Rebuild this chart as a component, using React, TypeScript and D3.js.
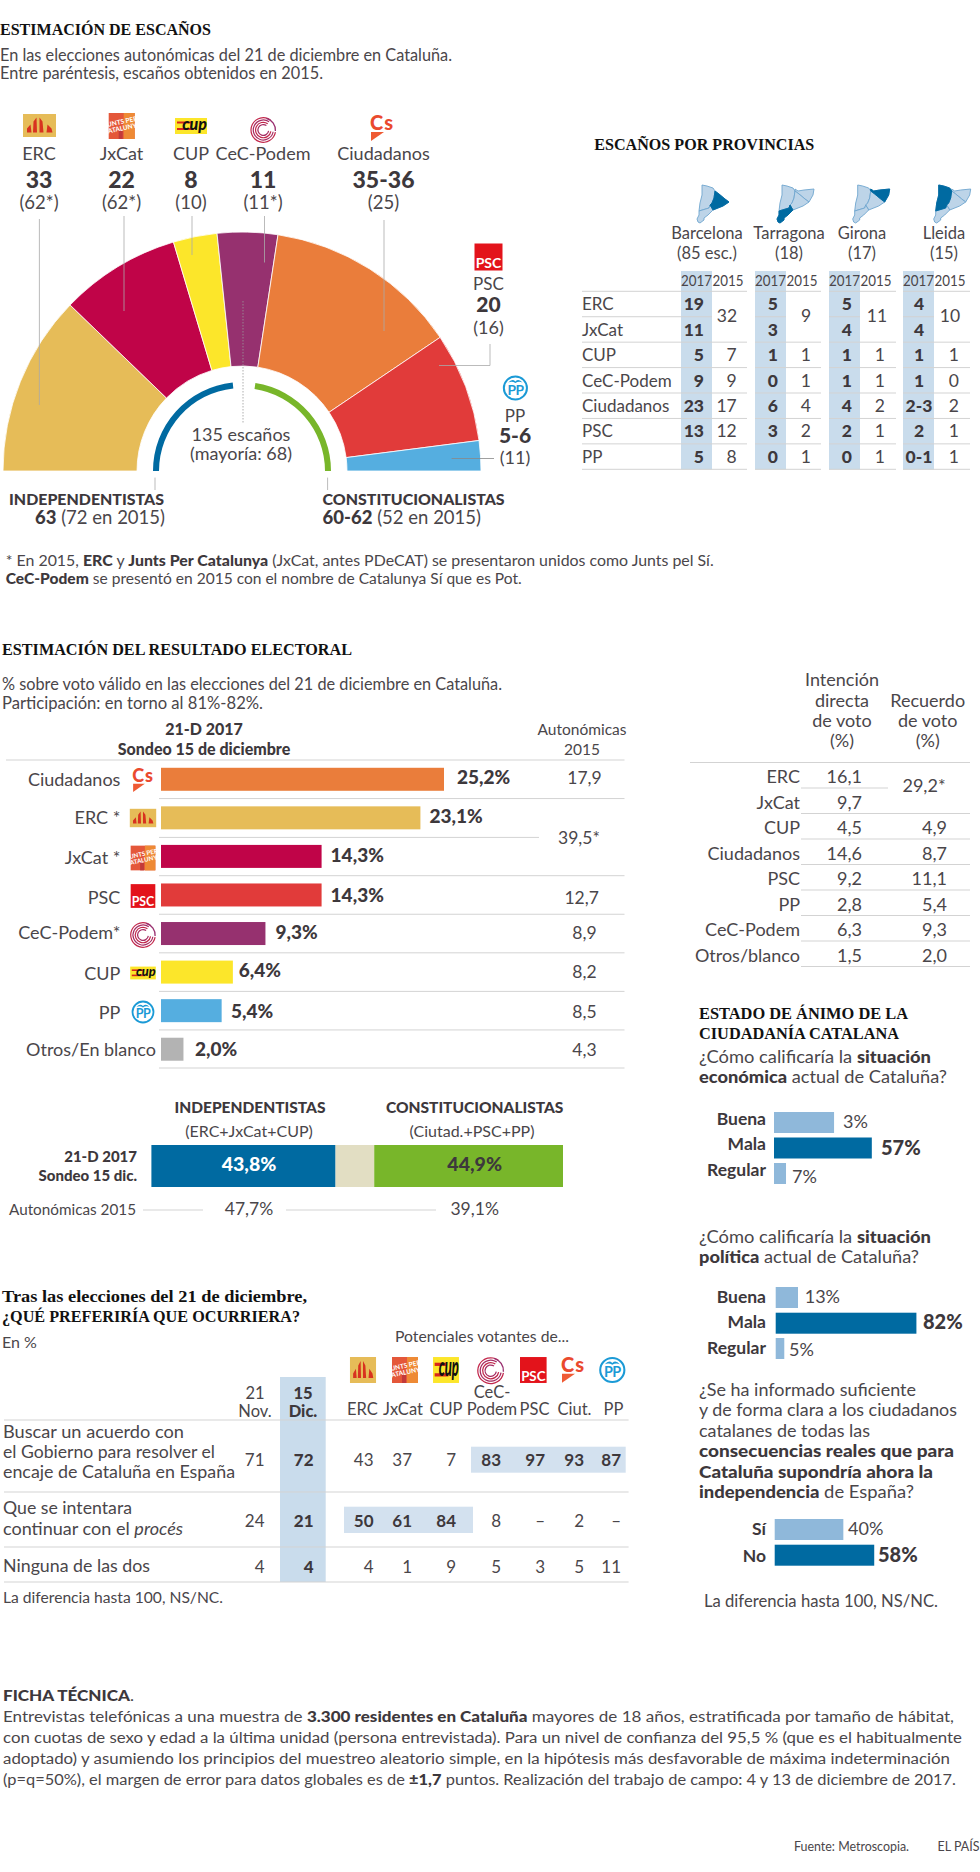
import React from "react";
import * as d3 from "d3";

// ---------- data ----------
const parties = ["ERC", "JxCat", "CUP", "CeC-Podem", "Ciudadanos", "PSC", "PP"];
const seats = [33, 22, 8, 11, 35.5, 20, 5.5];
const seatLabels = ["33", "22", "8", "11", "35-36", "20", "5-6"];
const seats2015 = ["(62*)", "(62*)", "(10)", "(11*)", "(25)", "(16)", "(11)"];
const partyColors = ["#e6bc58", "#c00448", "#fce62a", "#96316f", "#ea7d3b", "#e13b3a", "#55aee0"];
const blocSeats = [63, 61];

const provinces = ["Barcelona", "Tarragona", "Girona", "Lleida"];
const provinceSub = ["(85 esc.)", "(18)", "(17)", "(15)"];
const provRows = ["ERC", "JxCat", "CUP", "CeC-Podem", "Ciudadanos", "PSC", "PP"];
const prov2017 = [
  ["19", "11", "5", "9", "23", "13", "5"],
  ["5", "3", "1", "0", "6", "3", "0"],
  ["5", "4", "1", "1", "4", "2", "0"],
  ["4", "4", "1", "1", "2-3", "2", "0-1"],
];
const prov2015 = [
  ["32", "", "7", "9", "17", "12", "8"],
  ["9", "", "1", "1", "4", "2", "1"],
  ["11", "", "1", "1", "2", "1", "1"],
  ["10", "", "1", "0", "2", "1", "1"],
];

const voteParties = ["Ciudadanos", "ERC *", "JxCat *", "PSC", "CeC-Podem*", "CUP", "PP", "Otros/En blanco"];
const voteKeys = ["Cs", "ERC", "JxCat", "PSC", "CeC", "CUP", "PP", ""];
const voteValues = [25.2, 23.1, 14.3, 14.3, 9.3, 6.4, 5.4, 2.0];
const voteLabels = ["25,2%", "23,1%", "14,3%", "14,3%", "9,3%", "6,4%", "5,4%", "2,0%"];
const voteColors = ["#ea7d3b", "#e6bc58", "#c00448", "#e13b3a", "#96316f", "#fce62a", "#55aee0", "#b3b3b3"];
const vote2015 = ["17,9", "", "", "12,7", "8,9", "8,2", "8,5", "4,3"];

const blocValues = [43.8, 9.2, 44.9];
const blocColors = ["#006aa1", "#e2dec3", "#78b62a"];

const directRows = ["ERC", "JxCat", "CUP", "Ciudadanos", "PSC", "PP", "CeC-Podem", "Otros/blanco"];
const directVote = ["16,1", "9,7", "4,5", "14,6", "9,2", "2,8", "6,3", "1,5"];
const recallVote = ["", "", "4,9", "8,7", "11,1", "5,4", "9,3", "2,0"];

const moodLabels = ["Buena", "Mala", "Regular"];
const econValues = [35, 57, 7];
const econLabels = ["3%", "57%", "7%"];
const polValues = [13, 82, 5];
const polLabels = ["13%", "82%", "5%"];
const infoLabels = ["Sí", "No"];
const infoValues = [40, 58];
const infoText = ["40%", "58%"];

const prefCols = ["ERC", "JxCat", "CUP", "Podem", "PSC", "Ciut.", "PP"];
const prefNov = ["71", "24", "4"];
const prefDec = ["72", "21", "4"];
const prefValues = [
  ["43", "37", "7", "83", "97", "93", "87"],
  ["50", "61", "84", "8", "–", "2", "–"],
  ["4", "1", "9", "5", "3", "5", "11"],
];

// locator map outlines
const mapLleida: [number, number][] = [[18, 7], [17, 14], [15, 19], [13, 21], [12, 24], [2, 27], [3, 19], [5, 11], [5, 1], [10, 2], [16, 4]];
const mapGirona: [number, number][] = [[18, 5], [21, 7], [27, 6], [37, 5], [36, 11], [32, 18], [28, 15], [22, 10], [18, 7]];
const mapBarcelona: [number, number][] = [[18, 7], [22, 10], [28, 15], [32, 18], [26, 22], [16, 26], [13, 21], [15, 19], [17, 14]];
const mapTarragona: [number, number][] = [[2, 27], [12, 24], [13, 21], [16, 26], [11, 31], [7, 34], [7, 36], [3, 39], [1, 38], [0, 35], [2, 31]];
const mapShapes: Record<string, [number, number][]> = { Lleida: mapLleida, Girona: mapGirona, Barcelona: mapBarcelona, Tarragona: mapTarragona };

// ---------- helpers ----------
const SANS = "Lato, 'Open Sans', sans-serif";
const SERIF = "'Liberation Serif', serif";
const INK = "#4a464a";
const DARK = "#3d383c";
const RULE = "#d3d3d3";

type TP = { x: number; y: number; a?: "start" | "middle" | "end"; s?: number; b?: boolean; w?: number; c?: string; f?: string; tl?: number; children?: React.ReactNode };
const T = ({ x, y, a = "start", s = 16, b, w, c, f = SANS, tl, children }: TP) => (
  <text x={x} y={y} textAnchor={a} fontSize={s} fontFamily={f} fontWeight={w ?? (b ? 900 : 400)} fill={c ?? (b ? DARK : INK)}
    {...(tl ? { textLength: tl, lengthAdjust: "spacingAndGlyphs" } : {})}>{children}</text>
);
const B = ({ children }: { children: React.ReactNode }) => <tspan fontWeight={900} fill={DARK}>{children}</tspan>;
const Title = (p: TP) => <T s={17} w={700} c="#111" f={SERIF} {...p} />;
const Rule = ({ x1, x2, y, c = RULE, sw = 1 }: { x1: number; x2: number; y: number; c?: string; sw?: number }) => <line x1={x1} x2={x2} y1={y} y2={y} stroke={c} strokeWidth={sw} />;
const V = ({ x, y1, y2, c = "#aaa", dash }: { x: number; y1: number; y2: number; c?: string; dash?: string }) => <line x1={x} x2={x} y1={y1} y2={y2} stroke={c} strokeWidth={0.8} strokeDasharray={dash} />;

const cecRing = (r: number) =>
  d3.arc()({ innerRadius: r - 0.6, outerRadius: r + 0.6, startAngle: (100 * Math.PI) / 180, endAngle: (395 * Math.PI) / 180 } as any) as string;

// logos: cx/cy = centre, k = horizontal scale, ky = vertical scale
const Logo = ({ id, cx, cy, k = 1, ky }: { id: string; cx: number; cy: number; k?: number; ky?: number }) => {
  const tr = `translate(${cx},${cy}) scale(${k},${ky ?? k})`;
  if (id === "ERC")
    return (
      <g transform={tr}>
        <rect x={-16.5} y={-11.5} width={33} height={23} fill="#e6bc58" />
        <path d="M-12.5,7 L-12.5,3 L-9,-1 L-8,7Z M-6.5,7 L-6,-4 L-3,-8 L-2.5,7Z M0,7 L0,-8 L3,-4 L4,7Z M7,7 L8,-1 L12,3 L13,7Z" fill="#d8321f" />
      </g>
    );
  if (id === "JxCat")
    return (
      <g transform={tr}>
        <rect x={-13} y={-13} width={26} height={26} fill="#e4573a" />
        <rect x={2} y={-13} width={11} height={26} fill="#ee8a35" />
        <rect x={-3} y={5} width={4} height={8} fill="#c23a3a" />
        <g transform="rotate(-12)" fontFamily="'Liberation Sans Narrow', Lato" fontWeight={700} fill="#fff" fontSize={6.5} textAnchor="middle">
          <text y={-2}>JUNTS PER</text>
          <text y={4.5}>CATALUNYA</text>
        </g>
      </g>
    );
  if (id === "CUP")
    return (
      <g transform={tr}>
        <rect x={-16} y={-8} width={32} height={16} fill="#fce62a" />
        <rect x={-14} y={-4.5} width={14} height={2} fill="#d8261c" />
        <rect x={-14} y={2} width={17} height={2} fill="#d8261c" />
        <text x={3.5} y={3.5} textAnchor="middle" fontFamily={SANS} fontWeight={900} fontStyle="italic" fontSize={16} fill="#111">cup</text>
      </g>
    );
  if (id === "CeC")
    return (
      <g transform={tr}>
        {[12.3, 10, 7.7, 5.4].map((r, i) => <path key={r} d={cecRing(r)} fill={i % 2 ? "#a52c63" : "#c2274b"} />)}
        <path d={d3.arc()({ innerRadius: 11.5, outerRadius: 12.8, startAngle: (15 * Math.PI) / 180, endAngle: (95 * Math.PI) / 180 } as any) as string} fill="#9a3070" />
      </g>
    );
  if (id === "PSC")
    return (
      <g transform={tr}>
        <rect x={-14} y={-13.5} width={28} height={27} fill="#e3131b" />
        <text x={0} y={11} textAnchor="middle" fontFamily={SANS} fontWeight={700} fontSize={14} fill="#fff">PSC</text>
      </g>
    );
  if (id === "Cs")
    return (
      <g transform={tr}>
        <text x={0} y={6} textAnchor="middle" fontFamily={SANS} fontWeight={900} fontSize={20} letterSpacing={1} fill="#ea4a2e">Cs</text>
        <path d="M-11,8 L2,8 L-11,17 Z" fill="#ef5a33" />
      </g>
    );
  return (
    <g transform={tr}>
      <circle r={10.5} fill="none" stroke="#1b9ad6" strokeWidth={1.8} />
      <path d="M-6.5,-5 Q-3,-9 0,-6 Q3,-9 6.5,-5 Q3,-6.5 0,-4.5 Q-3,-6.5 -6.5,-5Z" fill="#1b9ad6" />
      <text x={0} y={6} textAnchor="middle" fontFamily={SANS} fontWeight={700} fontSize={12.5} fill="#1b9ad6" letterSpacing={-0.5}>PP</text>
    </g>
  );
};

const lineGen = d3.line();
const MiniMap = ({ name, x, y }: { name: string; x: number; y: number }) => (
  <g transform={`translate(${x},${y})`} strokeWidth={0.9} strokeLinejoin="round">
    {Object.keys(mapShapes).filter((k) => !(name === "Barcelona" && k === "Girona")).map((k) => (
      <path key={k} d={(lineGen(mapShapes[k]) ?? "") + "Z"} fill="#bdd4e8" stroke="#6fa6cf" />
    ))}
    <path d={(lineGen(mapShapes[name]) ?? "") + "Z"} fill="#006aa1" stroke="#006aa1" />
  </g>
);

const MoodBars = ({ labels, values, texts, x0, tops, h, labelY, textX, textY, strong }: any) => {
  const sx = d3.scaleLinear().domain([0, 100]).range([0, 171.6]);
  return (
    <g>
      {labels.map((l: string, i: number) => (
        <g key={l}>
          <T x={766} y={labelY[i]} a="end" s={17.5} w={700} c={DARK}>{l}</T>
          <rect x={x0} y={tops[i]} width={sx(values[i])} height={h} fill={i === strong ? "#006aa1" : "#8fb8da"} />
          <T x={textX[i]} y={textY[i]} s={i === strong ? 20 : 18} b={i === strong}>{texts[i]}</T>
        </g>
      ))}
    </g>
  );
};

export default function App() {
  // hemicycle
  const cx = 242, cy = 471;
  const pie = d3.pie<number>().sort(null).startAngle(-Math.PI / 2).endAngle(Math.PI / 2);
  const arcs = pie(seats);
  const arc = d3.arc<d3.PieArcDatum<number>>().innerRadius(105).outerRadius(239);
  const total = d3.sum(seats);
  const seatAngle = d3.scaleLinear().domain([0, total]).range([-Math.PI / 2, Math.PI / 2]);
  const ring = d3.arc().innerRadius(83).outerRadius(89);
  const blueRing = ring({ startAngle: seatAngle(0), endAngle: seatAngle(blocSeats[0]) } as any) as string;
  const greenRing = ring({ startAngle: seatAngle(total - blocSeats[1]), endAngle: seatAngle(total) } as any) as string;

  const labelX = [39, 121.5, 191, 263, 383.5];
  const logoKeys = ["ERC", "JxCat", "CUP", "CeC", "Cs"];
  const logoX = [39.5, 121.7, 191, 263.3, 382];
  const logoY = [125.5, 126, 126, 130, 124];

  // provinces
  const pRow = d3.scaleBand().domain(provRows).range([291.3, 469.3]);
  const colX = [681, 755, 829, 903];
  const colRight2017 = [704, 778, 852, 0];
  const colRight2015 = [736.7, 811, 885, 959];
  const mergedX = [727, 806, 877, 950];
  const colEnd = [747, 821, 896, 970];
  const mapX = [697, 777, 852.7, 933.7];
  const provLabelX = [707, 789, 862, 944];

  // vote bars
  const vx = d3.scaleLinear().domain([0, 25.2]).range([161, 444]);
  const vy = d3.scaleBand().domain(voteParties).range([760, 1068.5]);
  const voteTextY = [784, 823, 862, 902, 938.6, 977, 1017.6, 1056];
  const voteNameY = [786, 824, 864, 904, 939, 980, 1019, 1055.6];
  const voteLogoY = [776.6, 818, 858, 896, 935, 973, 1012, 0];
  const voteLogoK = [0.9, 0.8, 0.95, 0.88, 1, 0.8, 1, 1];
  const v2015X = [584.5, 0, 0, 581.6, 584.5, 584.5, 584.5, 584.5];
  const v2015Y = [784, 0, 0, 904, 939, 978, 1018, 1056];
  const valueX = [457, 429.4, 330.6, 330.6, 275.5, 238.8, 231, 195];

  // blocs
  const bx = d3.scaleLinear().domain([0, d3.sum(blocValues)]).range([151.4, 563]);
  let acc = 0;
  const blocs = blocValues.map((v, i) => { const r = { x0: bx(acc), x1: bx(acc + v), c: blocColors[i] }; acc += v; return r; });

  // direct table
  const dRow = d3.scaleBand().domain(directRows).range([762.5, 966.5]);

  // preferences
  const prefEnd = [373.5, 412, 456, 501, 545, 584, 621];
  const prefHeadX = [362.4, 403, 446, 492, 534.5, 574.5, 613.5];
  const prefRowY = [1466, 1526.7, 1572.7];
  const prefLogos: [string, number, number, number, number][] = [["ERC", 363, 1370, 0.79, 1.13], ["JxCat", 405, 1370, 1, 1], ["CUP", 446, 1370, 0.81, 1.62], ["CeC", 490.7, 1370.7, 1.05, 1.05], ["PSC", 533.3, 1370, 0.95, 0.96], ["Cs", 573, 1365.7, 1, 1], ["PP", 612.3, 1370, 1.15, 1.15]];

  return (
    <svg width={980} height={1872} viewBox="0 0 980 1872" style={{ position: "absolute", left: 0, top: 0, background: "#fff" }}>
      {/* ---------- section 1 ---------- */}
      <Title x={0} y={35} tl={211}>ESTIMACIÓN DE ESCAÑOS</Title>
      <T x={0} y={60.5} s={16.5} tl={452}>En las elecciones autonómicas del 21 de diciembre en Cataluña.</T>
      <T x={0} y={79} s={16.5} tl={323}>Entre paréntesis, escaños obtenidos en 2015.</T>

      <g transform={`translate(${cx},${cy})`}>
        {arcs.map((a, i) => <path key={i} d={arc(a) ?? ""} fill={partyColors[i]} stroke="#fff" strokeWidth={0.8} />)}
        <path d={blueRing} fill="#006aa1" />
        <path d={greenRing} fill="#78b62a" />
      </g>

      {labelX.map((x, i) => (
        <g key={i}>
          <Logo id={logoKeys[i]} cx={logoX[i]} cy={logoY[i]} />
          <T x={x} y={160} a="middle" s={18}>{parties[i]}</T>
          <T x={x} y={187.5} a="middle" s={23} b>{seatLabels[i]}</T>
          <T x={x} y={208.6} a="middle" s={18.5}>{seats2015[i]}</T>
        </g>
      ))}
      <Logo id="PSC" cx={488.5} cy={257} />
      <T x={488.5} y={289.5} a="middle" s={17}>{parties[5]}</T>
      <T x={488.5} y={312} a="middle" s={21} b>{seatLabels[5]}</T>
      <T x={488.5} y={334} a="middle" s={18}>{seats2015[5]}</T>
      <Logo id="PP" cx={515.4} cy={388} k={1.1} />
      <T x={515} y={421.5} a="middle" s={17}>{parties[6]}</T>
      <T x={515} y={443} a="middle" s={21} b>{seatLabels[6]}</T>
      <T x={515} y={464} a="middle" s={18}>{seats2015[6]}</T>

      <V x={39.4} y1={219} y2={405} />
      <V x={124} y1={216} y2={311} />
      <V x={192} y1={216} y2={255} />
      <V x={264.5} y1={216} y2={262.5} />
      <V x={384} y1={220} y2={331} />
      <path d="M490,344V365.5H439" fill="none" stroke="#aaa" strokeWidth={0.8} />
      <path d="M494,458.5H451.6" fill="none" stroke="#888" strokeWidth={0.8} />
      <V x={243} y1={301} y2={424} dash="1.5 1.5" c="#999" />
      <V x={155} y1={477.6} y2={490} />
      <V x={327.6} y1={477.6} y2={490} />
      <T x={241} y={441} a="middle" s={18}>135 escaños</T>
      <T x={241} y={460} a="middle" s={18}>(mayoría: 68)</T>

      <T x={164} y={505} a="end" s={15.5} w={900} c={DARK} tl={155}>INDEPENDENTISTAS</T>
      <T x={165} y={524} a="end" s={18.5}><B>63</B> (72 en 2015)</T>
      <T x={322.6} y={505} s={15.5} w={900} c={DARK} tl={182}>CONSTITUCIONALISTAS</T>
      <T x={322.6} y={524} s={18.5}><B>60-62</B> (52 en 2015)</T>

      <T x={5.7} y={565.6} s={15.5} tl={708}>* En 2015, <B>ERC</B> y <B>Junts Per Catalunya</B> (JxCat, antes PDeCAT) se presentaron unidos como Junts pel Sí.</T>
      <T x={5.7} y={584} s={15.5} tl={516}><B>CeC-Podem</B> se presentó en 2015 con el nombre de Catalunya Sí que es Pot.</T>

      {/* ---------- provinces ---------- */}
      <Title x={594.3} y={150} tl={220}>ESCAÑOS POR PROVINCIAS</Title>
      {provinces.map((p, i) => (
        <g key={p}>
          <MiniMap name={p} x={mapX[i]} y={184} />
          <T x={provLabelX[i]} y={239} a="middle" s={16.5}>{p}</T>
          <T x={provLabelX[i]} y={259} a="middle" s={16.5}>{provinceSub[i]}</T>
          <rect x={colX[i]} y={271} width={31} height={198.5} fill="#c9dcec" />
          <T x={colX[i] + 15.5} y={286} a="middle" s={15} tl={31}>2017</T>
          <T x={colX[i] + 47} y={286} a="middle" s={15} tl={31}>2015</T>
        </g>
      ))}
      {provRows.map((r, j) => (
        <g key={r}>
          <T x={582} y={(pRow(r) ?? 0) + 19} s={17}>{r}</T>
          {provinces.map((p, i) => (
            <g key={p}>
              {prov2017[i][j].length > 2 || i === 3
                ? <T x={919} y={(pRow(r) ?? 0) + 19} a="middle" s={17.5} b>{prov2017[i][j]}</T>
                : <T x={colRight2017[i]} y={(pRow(r) ?? 0) + 19} a="end" s={17.5} b>{prov2017[i][j]}</T>}
              {j >= 2 && <T x={colRight2015[i]} y={(pRow(r) ?? 0) + 19} a="end" s={17.5}>{prov2015[i][j]}</T>}
            </g>
          ))}
        </g>
      ))}
      {provinces.map((p, i) => <T key={p} x={mergedX[i]} y={321.7} a="middle" s={17.5}>{prov2015[i][0]}</T>)}
      {provRows.map((r, j) => (
        <g key={r}>
          {j === 1
            ? [[582, 712], [755, 786], [829, 860], [903, 934]].map(([a, b]) => <Rule key={a} x1={a} x2={b} y={pRow(r) ?? 0} />)
            : [582, 755, 829, 903].map((a, i) => <Rule key={a} x1={a} x2={colEnd[i]} y={pRow(r) ?? 0} />)}
        </g>
      ))}
      {[582, 755, 829, 903].map((a, i) => <Rule key={a} x1={a} x2={colEnd[i]} y={469.3} />)}

      {/* ---------- section 2 ---------- */}
      <Title x={2} y={655} tl={350}>ESTIMACIÓN DEL RESULTADO ELECTORAL</Title>
      <T x={2} y={690} s={16.5} tl={500}>% sobre voto válido en las elecciones del 21 de diciembre en Cataluña.</T>
      <T x={2} y={709} s={16.5} tl={261}>Participación: en torno al 81%-82%.</T>
      <T x={204} y={734.6} a="middle" s={16} b>21-D 2017</T>
      <T x={204} y={755} a="middle" s={16} b>Sondeo 15 de diciembre</T>
      <T x={582} y={734.6} a="middle" s={15.5}>Autonómicas</T>
      <T x={582} y={755} a="middle" s={15.5}>2015</T>
      <Rule x1={6} x2={624.5} y={760} />
      {voteParties.map((p, i) => {
        const c = (vy(p) ?? 0) + vy.bandwidth() / 2;
        return (
          <g key={p}>
            <T x={i === 7 ? 156 : 120.4} y={voteNameY[i]} a="end" s={18}>{p}</T>
            {voteKeys[i] && <Logo id={voteKeys[i]} cx={143} cy={voteLogoY[i]} k={voteLogoK[i]} />}
            <rect x={vx(0)} y={c - 11.5} width={vx(voteValues[i]) - vx(0)} height={23} fill={voteColors[i]} />
            <T x={valueX[i]} y={voteTextY[i]} s={19} b>{voteLabels[i]}</T>
            {vote2015[i] && <T x={v2015X[i]} y={v2015Y[i]} a="middle" s={17.5}>{vote2015[i]}</T>}
            {i !== 1 && i !== 7 && <Rule x1={159} x2={624.5} y={(vy(p) ?? 0) + vy.bandwidth()} />}
          </g>
        );
      })}
      <Rule x1={159} x2={624.5} y={1068} />
      <Rule x1={159} x2={539} y={837.4} />
      <T x={579} y={843.7} a="middle" s={17.5}>39,5*</T>

      <T x={250} y={1113} a="middle" s={15.5} w={900} c={DARK}>INDEPENDENTISTAS</T>
      <T x={474.7} y={1113} a="middle" s={15.5} w={900} c={DARK}>CONSTITUCIONALISTAS</T>
      <T x={249} y={1137} a="middle" s={16}>(ERC+JxCat+CUP)</T>
      <T x={472} y={1137} a="middle" s={16}>(Ciutad.+PSC+PP)</T>
      {blocs.map((b, i) => <rect key={i} x={b.x0} y={1145} width={b.x1 - b.x0} height={42} fill={b.c} />)}
      <T x={249} y={1170.6} a="middle" s={19.5} w={900} c="#fff">43,8%</T>
      <T x={474.7} y={1170.6} a="middle" s={19.5} b>44,9%</T>
      <T x={137} y={1162} a="end" s={15} b>21-D 2017</T>
      <T x={137} y={1181} a="end" s={15} b>Sondeo 15 dic.</T>
      <T x={9} y={1215} s={15.5} tl={127}>Autonómicas 2015</T>
      <Rule x1={143} x2={203} y={1210} />
      <T x={249} y={1215} a="middle" s={17.5}>47,7%</T>
      <Rule x1={286} x2={436} y={1210} />
      <T x={474.7} y={1215} a="middle" s={17.5}>39,1%</T>

      {/* ---------- right table ---------- */}
      {["Intención", "directa", "de voto", "(%)"].map((t, i) => <T key={i} x={842} y={[686, 707, 727, 747][i]} a="middle" s={18}>{t}</T>)}
      {["Recuerdo", "de voto", "(%)"].map((t, i) => <T key={i} x={927.7} y={[707, 727, 747][i]} a="middle" s={18}>{t}</T>)}
      <Rule x1={690} x2={970} y={762.5} />
      {directRows.map((r, i) => {
        const top = dRow(r) ?? 0;
        const y = top + 20.5;
        return (
          <g key={r}>
            <T x={800} y={y} a="end" s={18}>{r}</T>
            <T x={862} y={y} a="end" s={18}>{directVote[i]}</T>
            {recallVote[i] && <T x={947} y={y} a="end" s={18}>{recallVote[i]}</T>}
            <Rule x1={801} x2={i === 0 ? 888 : 970} y={top + dRow.bandwidth()} />
          </g>
        );
      })}
      <T x={924} y={792} a="middle" s={18}>29,2*</T>

      {/* ---------- mood ---------- */}
      <Title x={699} y={1019} tl={209}>ESTADO DE ÁNIMO DE LA</Title>
      <Title x={699} y={1039} tl={200}>CIUDADANÍA CATALANA</Title>
      <T x={699} y={1063} s={17} tl={232}>¿Cómo calificaría la <B>situación</B></T>
      <T x={699} y={1083} s={17} tl={248}><B>económica</B> actual de Cataluña?</T>
      <MoodBars labels={moodLabels} values={econValues} texts={econLabels} x0={774} tops={[1112, 1137.5, 1163]} h={21} labelY={[1125, 1150, 1176]} textX={[843, 881, 792]} textY={[1127.5, 1155, 1183]} strong={1} />
      <T x={699} y={1242.7} s={17} tl={232}>¿Cómo calificaría la <B>situación</B></T>
      <T x={699} y={1262.7} s={17} tl={220}><B>política</B> actual de Cataluña?</T>
      <MoodBars labels={moodLabels} values={polValues} texts={polLabels} x0={775.7} tops={[1287, 1312.7, 1338]} h={21} labelY={[1302.7, 1328, 1354]} textX={[804.7, 923, 789]} textY={[1302.7, 1329, 1355.7]} strong={1} />
      <T x={699} y={1396} s={17} tl={217}>¿Se ha informado suficiente</T>
      <T x={699} y={1416} s={17} tl={258}>y de forma clara a los ciudadanos</T>
      <T x={699} y={1436.7} s={17} tl={171}>catalanes de todas las</T>
      <T x={699} y={1456.7} s={16} w={900} c={DARK} tl={255}>consecuencias reales que para</T>
      <T x={699} y={1477.7} s={16} w={900} c={DARK} tl={234}>Cataluña supondría ahora la</T>
      <T x={699} y={1497.7} s={17} tl={215}><B>independencia</B> de España?</T>
      <MoodBars labels={infoLabels} values={infoValues} texts={infoText} x0={774.7} tops={[1519, 1544.7]} h={21} labelY={[1535, 1561.7]} textX={[848, 878]} textY={[1535, 1561.7]} strong={1} />
      <T x={704} y={1606.7} s={16.5} tl={234}>La diferencia hasta 100, NS/NC.</T>

      {/* ---------- preferences ---------- */}
      <Title x={2} y={1301.7} tl={305}>Tras las elecciones del 21 de diciembre,</Title>
      <Title x={2} y={1321.7} tl={298}>¿QUÉ PREFERIRÍA QUE OCURRIERA?</Title>
      <T x={2} y={1348} s={16}>En %</T>
      <T x={395} y={1342} s={16} tl={174}>Potenciales votantes de...</T>
      <rect x={280} y={1377} width={45.7} height={205} fill="#c9dcec" />
      <rect x={471} y={1446.7} width={154.7} height={26} fill="#d3e1ef" />
      <rect x={344} y={1506.7} width={129} height={26.3} fill="#d3e1ef" />
      {prefLogos.map(([id, x, y, k, ky]) => <Logo key={id} id={id} cx={x} cy={y} k={k} ky={ky} />)}
      {prefCols.map((c, i) => <T key={c} x={prefHeadX[i]} y={1415} a="middle" s={16.5}>{c}</T>)}
      <T x={492} y={1397.5} a="middle" s={16.5}>CeC-</T>
      <T x={255} y={1399} a="middle" s={16.5}>21</T>
      <T x={255} y={1417} a="middle" s={16.5}>Nov.</T>
      <T x={303} y={1399} a="middle" s={16.5} b>15</T>
      <T x={303} y={1417} a="middle" s={16.5} b>Dic.</T>
      <Rule x1={4} x2={628.6} y={1420} />
      <Rule x1={4} x2={628.6} y={1492} />
      <Rule x1={4} x2={628.6} y={1547} />
      <Rule x1={4} x2={628.6} y={1582} />
      <T x={3} y={1437.7} s={17} tl={181}>Buscar un acuerdo con</T>
      <T x={3} y={1457.7} s={17} tl={212}>el Gobierno para resolver el</T>
      <T x={3} y={1477.7} s={17} tl={232}>encaje de Cataluña en España</T>
      <T x={3} y={1514} s={17} tl={129}>Que se intentara</T>
      <T x={3} y={1535} s={17} tl={180}>continuar con el <tspan fontStyle="italic">procés</tspan></T>
      <T x={3} y={1571.7} s={17} tl={147}>Ninguna de las dos</T>
      {prefRowY.map((y, r) => (
        <g key={r}>
          <T x={264.5} y={y} a="end" s={17}>{prefNov[r]}</T>
          <T x={313.5} y={y} a="end" s={17} b>{prefDec[r]}</T>
          {prefValues[r].map((v, i) => <T key={i} x={prefEnd[i]} y={y} a="end" s={17} w={((r === 0 && i >= 3) || (r === 1 && i < 3)) ? 700 : 400} c={((r === 0 && i >= 3) || (r === 1 && i < 3)) ? DARK : INK}>{v}</T>)}
        </g>
      ))}
      <T x={3} y={1603} s={15.5} tl={220}>La diferencia hasta 100, NS/NC.</T>

      {/* ---------- ficha ---------- */}
      <T x={3} y={1700.7} s={15.5} tl={131}><B>FICHA TÉCNICA</B>.</T>
      <T x={3} y={1721.7} s={15.5} tl={951}>Entrevistas telefónicas a una muestra de <B>3.300 residentes en Cataluña</B> mayores de 18 años, estratificada por tamaño de hábitat,</T>
      <T x={3} y={1742.7} s={15.5} tl={959}>con cuotas de sexo y edad a la última unidad (persona entrevistada). Para un nivel de confianza del 95,5 % (que es el habitualmente</T>
      <T x={3} y={1764} s={15.5} tl={947}>adoptado) y asumiendo los principios del muestreo aleatorio simple, en la hipótesis más desfavorable de máxima indeterminación</T>
      <T x={3} y={1785} s={15.5} tl={953}>(p=q=50%), el margen de error para datos globales es de  <B>±1,7</B> puntos. Realización del trabajo de campo: 4 y 13 de diciembre de 2017.</T>
      <T x={794} y={1851} s={13} tl={115}>Fuente: Metroscopia.</T>
      <T x={937.5} y={1851} s={13} tl={42}>EL PAÍS</T>
    </svg>
  );
}
